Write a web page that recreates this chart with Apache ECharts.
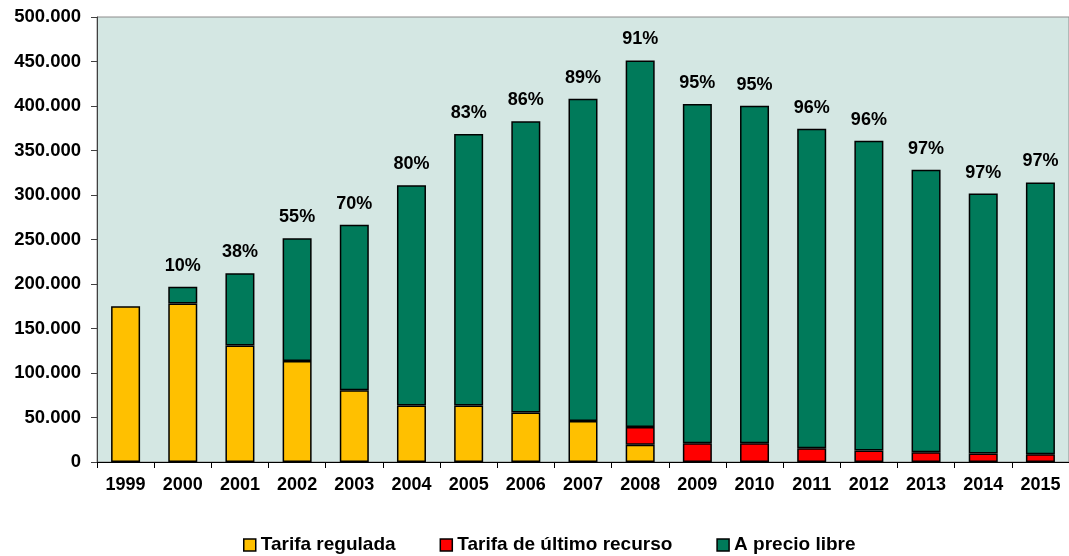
<!DOCTYPE html>
<html>
<head>
<meta charset="utf-8">
<script src="https://cdn.jsdelivr.net/npm/echarts@6/dist/echarts.min.js"></script>
<style>
html, body { margin: 0; padding: 0; background: #fff; }
#chart { width: 1069px; height: 556px; }
</style>
</head>
<body>
<div id="chart"></div>
<script>
// datos
var years = ['1999','2000','2001','2002','2003','2004','2005','2006','2007','2008','2009','2010','2011','2012','2013','2014','2015'];
var regulada = [175000, 178000, 131000, 113500, 80500, 63500, 63500, 55500, 46000, 19500, null, null, null, null, null, null, null];
var ultimoRecurso = [null, null, null, null, null, null, null, null, null, 19800, 21200, 21200, 15500, 13000, 11000, 9600, 8800];
var libre = [null, 18800, 81000, 137800, 186200, 247400, 305000, 327300, 362200, 411800, 381100, 379100, 358900, 347900, 317300, 292000, 305300];
var pctLibre = ['', '10%', '38%', '55%', '70%', '80%', '83%', '86%', '89%', '91%', '95%', '95%', '96%', '96%', '97%', '97%', '97%'];

var fuente = "Arial, 'Liberation Sans', sans-serif";

function miles(v) {
	return String(v).replace(/\B(?=(\d{3})+(?!\d))/g, '.');
}

var myChart = echarts.init(document.getElementById('chart'));
var option = {
	animation: false,
	textStyle: { fontFamily: fuente },
	grid: {
		left: 97, right: 0, top: 17, bottom: 94,
		containLabel: false,
		outerBoundsMode: 'none',
		show: true,
		backgroundColor: '#d4e7e3',
		borderColor: '#8c8c8c',
		borderWidth: 1
	},
	legend: {
		left: 238,
		top: 529,
		itemWidth: 12,
		itemHeight: 12,
		itemGap: 44,
		icon: 'rect',
		itemStyle: { borderColor: '#000', borderWidth: 1.5 },
		textStyle: { fontFamily: fuente, fontSize: 19, fontWeight: 'bold', color: '#000', lineHeight: 22 },
		data: ['Tarifa regulada', 'Tarifa de último recurso', 'A precio libre']
	},
	xAxis: {
		type: 'category',
		data: years,
		axisLine: { lineStyle: { color: '#000', width: 1 } },
		axisTick: { show: true, length: 6, lineStyle: { color: '#000' } },
		axisLabel: { fontFamily: fuente, fontSize: 18, fontWeight: 'bold', color: '#000', margin: 14, interval: 0 }
	},
	yAxis: {
		type: 'value',
		min: 0,
		max: 500000,
		interval: 50000,
		axisLine: { show: true, lineStyle: { color: '#404040', width: 1 } },
		axisTick: { show: true, length: 6, lineStyle: { color: '#404040' } },
		splitLine: { show: false },
		axisLabel: { fontFamily: fuente, fontSize: 18.5, fontWeight: 'bold', color: '#000', margin: 16, formatter: miles }
	},
	series: [
		{
			name: 'Tarifa regulada',
			type: 'bar',
			stack: 'total',
			barWidth: 29,
			data: regulada,
			itemStyle: { color: '#ffc000', borderColor: '#000', borderWidth: 1.5 }
		},
		{
			name: 'Tarifa de último recurso',
			type: 'bar',
			stack: 'total',
			barWidth: 29,
			data: ultimoRecurso,
			itemStyle: { color: '#ff0000', borderColor: '#000', borderWidth: 1.5 }
		},
		{
			name: 'A precio libre',
			type: 'bar',
			stack: 'total',
			barWidth: 29,
			data: libre,
			itemStyle: { color: '#007a5a', borderColor: '#000', borderWidth: 1.5 },
			label: {
				show: true,
				position: 'top',
				distance: 12,
				fontFamily: fuente,
				fontSize: 18,
				fontWeight: 'bold',
				color: '#000',
				formatter: function (p) { return pctLibre[p.dataIndex]; }
			}
		}
	]
};

myChart.setOption(option);
window.onresize = myChart.resize;
</script>
</body>
</html>
